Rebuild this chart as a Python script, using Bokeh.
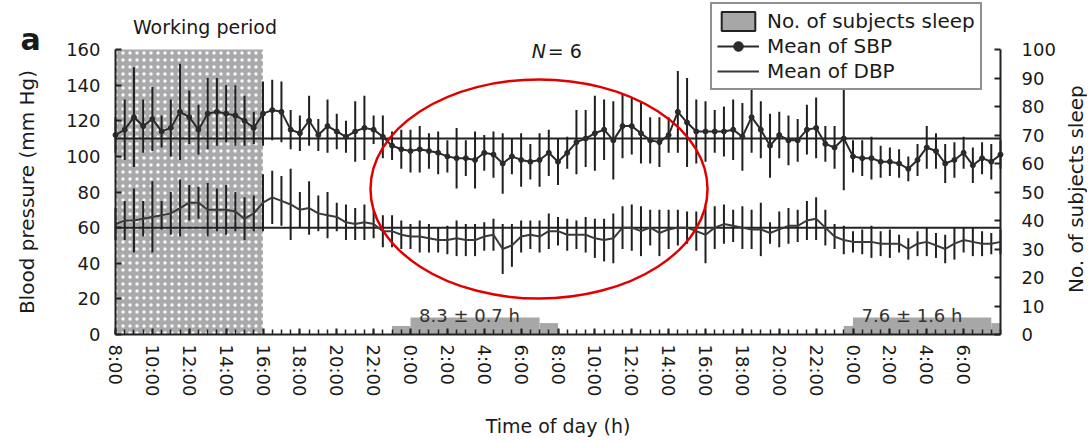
import math
from bokeh.plotting import figure
from bokeh.models import (Range1d, LinearAxis, FixedTicker, Label, Legend, LegendItem)
from bokeh.embed import file_html
from bokeh.resources import INLINE

FONT = "DejaVu Sans"

# ---------------- data ----------------
# hours since 8:00 on day 1 (measurements every 30 min)
time_h = [0, 0.5, 1, 1.5, 2, 2.5, 3, 3.5, 4, 4.5, 5, 5.5, 6, 6.5, 7, 7.5,
          8, 8.5, 9, 9.5, 10, 10.5, 11, 11.5, 12, 12.5, 13, 13.5, 14, 14.5, 15, 15.5,
          16, 16.5, 17, 17.5, 18, 18.5, 19, 19.5, 20, 20.5, 21, 21.5, 22, 22.5, 23, 23.5,
          24, 24.5, 25, 25.5, 26, 26.5, 27, 27.5, 28, 28.5, 29, 29.5, 30, 30.5, 31, 31.5,
          32, 32.5, 33, 33.5, 34, 34.5, 35, 35.5, 36, 36.5, 37, 37.5, 38, 38.5, 39, 39.5,
          40, 40.5, 41, 41.5, 42, 42.5, 43, 43.5, 44, 44.5, 45, 45.5, 46, 46.5, 47, 47.5, 48]

sbp_mean = [112, 115, 122, 117, 121, 114, 116, 125, 122, 115, 124, 125, 124, 123, 120, 116,
            124, 126, 125, 115, 113, 120, 112, 117, 114, 111, 114, 116, 115, 111, 106, 104,
            103, 104, 103, 102, 100, 99, 99, 98, 102, 101, 96, 100, 98, 97, 98, 102,
            97, 102, 108, 110, 113, 115, 109, 117, 117, 113, 109, 108, 112, 125, 119, 114,
            114, 114, 114, 115, 111, 122, 115, 106, 112, 109, 109, 115, 116, 107, 105, 110,
            100, 99, 99, 97, 97, 96, 93, 98, 105, 103, 96, 98, 102, 95, 99, 97, 101]

sbp_sd = [10, 17, 28, 15, 18, 9, 16, 27, 15, 14, 20, 19, 16, 17, 14, 9,
          18, 17, 17, 11, 10, 14, 9, 15, 10, 9, 17, 18, 8, 12, 8, 11,
          12, 13, 10, 12, 9, 17, 10, 16, 10, 13, 17, 10, 15, 10, 15, 13,
          13, 9, 18, 16, 21, 17, 22, 18, 16, 17, 13, 14, 10, 23, 25, 18,
          17, 12, 14, 17, 19, 20, 16, 18, 13, 14, 12, 14, 17, 10, 12, 29,
          9, 10, 12, 9, 8, 8, 7, 9, 12, 10, 11, 10, 9, 10, 9, 10, 8]

dbp_mean = [62, 64, 64, 65, 66, 67, 68, 71, 74, 74, 70, 70, 70, 69, 65, 68,
            74, 77, 75, 73, 70, 71, 68, 67, 66, 63, 62, 63, 62, 58, 58, 56,
            55, 55, 54, 53, 53, 54, 53, 53, 55, 56, 48, 50, 55, 56, 55, 58,
            58, 56, 56, 56, 54, 53, 54, 60, 60, 58, 60, 57, 59, 60, 60, 58,
            56, 60, 62, 61, 60, 59, 59, 57, 59, 61, 61, 64, 65, 60, 55, 53,
            52, 52, 52, 51, 51, 51, 48, 51, 52, 50, 48, 51, 53, 52, 51, 51, 52]

dbp_sd = [9, 11, 18, 10, 20, 8, 12, 16, 10, 9, 15, 12, 14, 11, 12, 10,
          16, 15, 14, 20, 10, 15, 10, 13, 8, 10, 9, 10, 8, 9, 9, 8,
          7, 9, 8, 7, 8, 10, 9, 9, 8, 9, 14, 12, 9, 8, 9, 10,
          8, 9, 8, 10, 11, 12, 14, 12, 13, 14, 10, 13, 11, 10, 9, 11,
          16, 12, 11, 9, 12, 11, 15, 6, 10, 10, 9, 11, 12, 10, 7, 8,
          6, 7, 9, 7, 8, 5, 6, 7, 8, 7, 8, 9, 7, 8, 7, 6, 7]

# number of subjects asleep (right axis)
sleep_left = [15.0, 16.0, 23.0, 39.5, 40.0, 47.5]
sleep_right = [16.0, 23.0, 24.0, 40.0, 47.5, 48.0]
sleep_count = [3, 6, 4, 3, 6, 4]

# working period (8:00-16:00)
work_start, work_end = 0, 8

# reference lines
ref_sbp, ref_dbp = 110, 60

tick_pos = [0, 2, 4, 6, 8, 10, 12, 14, 16, 18, 20, 22, 24, 26, 28, 30, 32, 34, 36, 38, 40, 42, 44, 46]
tick_labels = ["8:00", "10:00", "12:00", "14:00", "16:00", "18:00", "20:00", "22:00",
               "0:00", "2:00", "4:00", "6:00", "8:00", "10:00", "12:00", "14:00",
               "16:00", "18:00", "20:00", "22:00", "0:00", "2:00", "4:00", "6:00"]
bp_ticks = [0, 20, 40, 60, 80, 100, 120, 140, 160]
sleep_ticks = [0, 10, 20, 30, 40, 50, 60, 70, 80, 90, 100]

sbp_lo = [m - s for m, s in zip(sbp_mean, sbp_sd)]
sbp_hi = [m + s for m, s in zip(sbp_mean, sbp_sd)]
dbp_lo = [m - s for m, s in zip(dbp_mean, dbp_sd)]
dbp_hi = [m + s for m, s in zip(dbp_mean, dbp_sd)]

# ---------------- figure ----------------
# The frame covers the whole canvas; axes are pinned at fixed data locations so that
# the surrounding texts (title, legend, labels) can sit around the plotting area.
W, H = 1087, 440
X_END = 48
x_px = 885 / X_END          # pixels per hour
y_px = 285 / 160            # pixels per mmHg
s_px = 285 / 100            # pixels per subject unit
x0, y0 = 115, 334           # pixel position of the origin
p = figure(width=W, height=H, output_backend="svg", toolbar_location=None,
           x_range=Range1d(-x0 / x_px, X_END + (W - 1000) / x_px),
           y_range=Range1d(-(H - y0) / y_px, 160 + 49 / y_px),
           min_border=0, min_border_left=0, min_border_right=0,
           min_border_top=0, min_border_bottom=0)
p.outline_line_color = None
p.xgrid.grid_line_color = None
p.ygrid.grid_line_color = None
p.extra_y_ranges = {"sleep": Range1d(-(H - y0) / s_px, 100 + 49 / s_px)}

def style_axis(ax):
    ax.axis_line_width = 2
    ax.axis_line_color = "#222222"
    ax.major_tick_in = 6
    ax.major_tick_out = 0
    ax.minor_tick_in = 0
    ax.minor_tick_out = 0
    ax.major_tick_line_width = 2
    ax.major_tick_line_color = "#222222"
    ax.major_label_text_font = FONT
    ax.major_label_text_font_size = "18px"
    ax.major_label_text_color = "#1a1a1a"
    ax.axis_label_text_font = FONT
    ax.axis_label_text_font_size = "19px"
    ax.axis_label_text_font_style = "normal"
    ax.axis_label_text_color = "#1a1a1a"

xa = p.xaxis[0]
style_axis(xa)
xa.fixed_location = 0
xa.bounds = (0, X_END)
xa.ticker = FixedTicker(ticks=tick_pos, minor_ticks=[i * 0.5 for i in range(97)])
xa.major_label_overrides = {t: lab for t, lab in zip(tick_pos, tick_labels)}
xa.major_label_orientation = "vertical"
xa.minor_tick_in = 5
xa.minor_tick_line_width = 1.5
xa.minor_tick_line_color = "#222222"
xa.major_label_standoff = 10
xa.axis_label = "Time of day (h)"
xa.axis_label_standoff = 16

ya = p.yaxis[0]
style_axis(ya)
ya.fixed_location = 0
ya.bounds = (0, 160)
ya.ticker = FixedTicker(ticks=bp_ticks)
ya.major_label_standoff = 15
ya.axis_label = "Blood pressure (mm Hg)"
ya.axis_label_text_font_size = "20px"
ya.axis_label_standoff = 24

ra = LinearAxis(y_range_name="sleep", ticker=FixedTicker(ticks=sleep_ticks))
style_axis(ra)
ra.fixed_location = X_END
ra.bounds = (0, 100)
ra.major_label_standoff = 21
p.add_layout(ra, "right")

# working period shading
p.quad(left=[work_start], right=[work_end], bottom=[0], top=[160],
       fill_color="#a9a9ac", line_color=None,
       hatch_pattern="dot", hatch_color="white", hatch_scale=7, hatch_weight=1.2, hatch_alpha=0.9)

# sleep bars
p.quad(left=sleep_left, right=sleep_right, bottom=0, top=sleep_count,
       y_range_name="sleep", fill_color="#a7a7a7", line_color=None)

# reference lines
p.segment(x0=[0, 0], y0=[ref_sbp, ref_dbp], x1=[X_END, X_END], y1=[ref_sbp, ref_dbp],
          line_color="#222222", line_width=2)

# error bars
p.segment(x0=time_h, y0=sbp_lo, x1=time_h, y1=sbp_hi, line_color="#1f1f1f", line_width=2)
p.segment(x0=time_h, y0=dbp_lo, x1=time_h, y1=dbp_hi, line_color="#1f1f1f", line_width=2)

# mean curves
sbp_line = p.line(time_h, sbp_mean, line_color="#2a2a2a", line_width=2)
sbp_pts = p.scatter(time_h, sbp_mean, marker="circle", size=5, fill_color="#2a2a2a", line_color="#2a2a2a")
dbp_line = p.line(time_h, dbp_mean, line_color="#3a3a3a", line_width=2)

# red ellipse highlight
ell_x, ell_y, ell_w, ell_h = 22.97, 81.7, 18.28, 123
p.ellipse(x=[ell_x], y=[ell_y], width=ell_w, height=ell_h,
          fill_color=None, line_color="#e00000", line_width=2.5)

# legend (sleep swatch: a glyph with no drawable position, used only for its legend entry)
nan = float("nan")
legend_rect = p.quad(left=[nan], right=[nan], bottom=[nan], top=[nan],
                     fill_color="#a7a7a7", line_color="#222222", line_width=2)
legend = Legend(items=[
    LegendItem(label="No. of subjects sleep", renderers=[legend_rect]),
    LegendItem(label="Mean of SBP", renderers=[sbp_line, sbp_pts]),
    LegendItem(label="Mean of DBP", renderers=[dbp_line]),
], location=(710, H - 90))
legend.border_line_color = "#222222"
legend.border_line_width = 2
legend.padding = 5
legend.spacing = 1
legend.margin = 0
legend.label_text_font = FONT
legend.label_text_font_size = "20px"
legend.label_text_color = "#1a1a1a"
legend.glyph_width = 42
legend.glyph_height = 24
legend.label_height = 24
legend.label_standoff = 8
legend.background_fill_alpha = 1
p.add_layout(legend)

# texts
p.add_layout(Label(x=52.07, y=51, y_range_name="sleep", text="No. of subjects sleep",
                   angle=math.pi / 2, text_font=FONT, text_font_size="20px",
                   text_align="center", text_baseline="middle", text_color="#1a1a1a"))
p.add_layout(Label(x=4.85, y=172.4, text="Working period", text_font=FONT,
                   text_font_size="19px", text_align="center", text_baseline="middle",
                   text_color="#1a1a1a"))
p.add_layout(Label(x=-4.6, y=165.5, text="a", text_font=FONT, text_font_style="bold",
                   text_font_size="30px", text_align="center", text_baseline="middle",
                   text_color="#1a1a1a"))
p.add_layout(Label(x=23.35, y=159.4, text="N", text_font=FONT, text_font_style="italic",
                   text_font_size="19px", text_align="right", text_baseline="middle",
                   text_color="#1a1a1a"))
p.add_layout(Label(x=23.45, y=159.4, text=" = 6", text_font=FONT,
                   text_font_size="19px", text_align="left", text_baseline="middle",
                   text_color="#1a1a1a"))
p.add_layout(Label(x=19.2, y=6.7, y_range_name="sleep", text="8.3 ± 0.7 h", text_font=FONT,
                   text_font_size="18px", text_align="center", text_baseline="middle",
                   text_color="#333333"))
p.add_layout(Label(x=43.2, y=6.7, y_range_name="sleep", text="7.6 ± 1.6 h", text_font=FONT,
                   text_font_size="18px", text_align="center", text_baseline="middle",
                   text_color="#333333"))

open("out.html", "w").write(file_html(p, INLINE))
